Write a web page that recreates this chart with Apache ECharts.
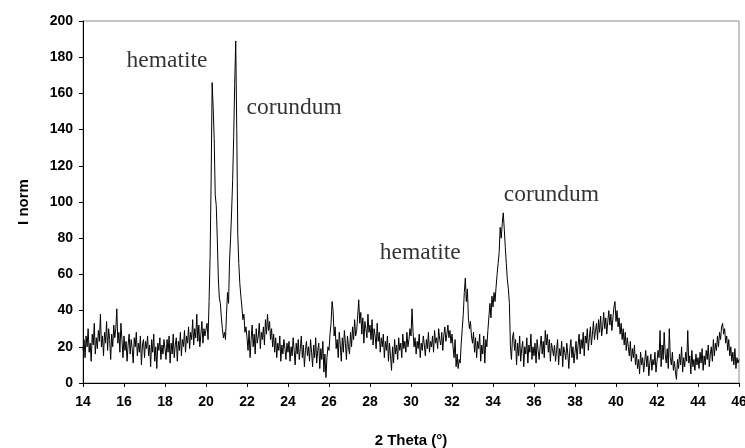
<!DOCTYPE html>
<html>
<head>
<meta charset="utf-8">
<script src="https://cdn.jsdelivr.net/npm/echarts@6/dist/echarts.min.js"></script>
<style>html,body{margin:0;padding:0;background:#fff}#c{width:745px;height:448px}</style>
</head>
<body>
<div id="c"></div>
<script>
// Sampling grid of the scan (2 Theta, degrees)
const startTheta = 14;
const stepTheta = 0.05;

// Normalised intensity, one row per degree (20 samples each)
const intensity = [
  /*14*/ 18,24,14,26,20,30,17,22,12,27,21,33,16,25,19,29,23,38,20,26,
  /*15*/ 15,28,22,34,18,30,24,13,27,20,32,25,30,41,22,28,17,33,24,14,
  /*16*/ 26,18,23,12,21,27,16,24,19,11,25,20,28,15,22,17,26,10,21,24,
  /*17*/ 14,23,19,26,15,21,9,24,17,27,12,20,8,22,18,25,13,21,16,24,
  /*18*/ 19,13,24,17,26,11,22,16,27,14,21,25,12,23,18,28,15,24,20,29,
  /*19*/ 17,26,22,31,19,28,24,35,21,30,25,38,23,32,20,27,34,22,30,26,
  /*20*/ 26,33,24,45,70,112,166,152,135,104,98,80,58,47,44,36,30,25,28,24,
  /*21*/ 38,50,44,68,80,95,112,136,165,189,140,82,66,55,48,42,35,38,28,31,
  /*22*/ 25,18,29,14,24,32,20,27,16,30,22,26,33,19,28,24,31,21,35,27,
  /*23*/ 38,29,34,24,30,20,27,17,25,14,22,18,26,12,21,16,24,19,13,22,
  /*24*/ 17,23,12,20,15,25,18,10,22,16,24,13,19,26,14,21,9,18,23,15,
  /*25*/ 20,12,24,17,9,21,14,25,11,18,22,8,19,13,23,6,16,3,14,20,
  /*26*/ 18,27,33,45,40,26,31,19,24,14,28,21,12,25,17,29,22,13,26,20,
  /*27*/ 16,28,20,31,24,35,26,29,37,46,33,39,27,36,22,34,30,25,38,28,
  /*28*/ 32,24,35,21,30,26,19,33,23,28,17,25,20,27,14,23,18,26,12,22,
  /*29*/ 15,7,20,11,24,16,21,13,25,18,22,14,27,19,23,17,28,20,24,30,
  /*30*/ 26,41,28,20,25,16,23,19,27,14,22,18,26,21,15,24,19,28,17,23,
  /*31*/ 20,26,17,29,22,25,19,30,24,21,28,18,26,31,23,27,32,25,29,22,
  /*32*/ 27,20,14,24,9,16,8,13,11,22,30,38,50,58,45,52,36,30,34,26,
  /*33*/ 22,28,17,25,14,23,19,27,12,21,16,26,11,24,20,29,30,44,36,48,
  /*34*/ 42,50,45,53,60,66,72,86,80,88,94,85,75,66,57,52,44,20,13,25,
  /*35*/ 28,18,24,10,22,15,26,12,19,23,9,20,16,25,11,21,17,27,13,20,
  /*36*/ 15,22,11,24,18,13,20,26,16,23,14,29,21,27,17,24,12,22,19,15,
  /*37*/ 21,12,18,24,10,19,15,23,9,20,17,13,22,16,8,19,24,14,20,11,
  /*38*/ 17,23,13,21,27,16,24,19,28,15,26,22,30,18,25,31,21,27,34,24,
  /*39*/ 29,33,24,35,28,37,26,31,39,30,36,27,34,40,32,38,29,36,42,45,
  /*40*/ 34,40,31,36,27,33,24,30,21,28,18,25,20,15,23,12,19,14,21,10,
  /*41*/ 16,8,13,5,17,10,14,6,12,18,9,15,4,11,16,7,13,10,17,6,
  /*42*/ 12,18,14,29,9,21,13,28,16,11,19,8,30,14,10,17,7,12,6,2,
  /*43*/ 13,8,16,10,20,6,14,9,17,12,29,11,15,5,18,9,13,7,16,10,
  /*44*/ 14,8,17,11,19,7,15,10,18,13,21,9,16,20,12,24,15,22,18,26,
  /*45*/ 20,28,24,31,33,27,30,22,26,18,24,15,20,12,17,10,19,8,14,11,
  /*46*/ 13
];

// Peak annotations (text, position in data coordinates)
const annotationText  = ['hematite', 'corundum', 'hematite', 'corundum'];
const annotationTheta = [18.1, 24.3, 30.45, 36.85];
const annotationI     = [178, 152, 72, 104];

const xTicks = {min: 14, max: 46, interval: 2};
const yTicks = {min: 0, max: 200, interval: 20};

const lineData = intensity.map((v, i) => [+(startTheta + i * stepTheta).toFixed(2), v]);
const annData = annotationText.map((t, i) => ({value: [annotationTheta[i], annotationI[i]], name: t}));

const chart = echarts.init(document.getElementById('c'), null, {renderer: 'canvas'});
const tickFont = {fontFamily: 'Liberation Sans, Arial, sans-serif', fontWeight: 'bold', fontSize: 14, color: '#000'};
const nameFont = {fontFamily: 'Liberation Sans, Arial, sans-serif', fontWeight: 'bold', fontSize: 15, color: '#000'};
chart.setOption({
  animation: false,
  backgroundColor: '#fff',
  grid: {left: 83, right: 6, top: 21, bottom: 65, show: true, borderColor: '#8c8c8c', borderWidth: 1,
         containLabel: false, outerBoundsMode: 'none'},
  xAxis: {
    type: 'value', min: xTicks.min, max: xTicks.max, interval: xTicks.interval,
    name: '2 Theta (°)', nameLocation: 'middle', nameGap: 50,
    nameTextStyle: nameFont,
    axisLine: {show: true, lineStyle: {color: '#000', width: 1}},
    axisTick: {show: true, length: 4, lineStyle: {color: '#000'}},
    axisLabel: Object.assign({margin: 12}, tickFont),
    splitLine: {show: false}
  },
  yAxis: {
    type: 'value', min: yTicks.min, max: yTicks.max, interval: yTicks.interval,
    name: 'I norm', nameLocation: 'middle', nameGap: 52, nameRotate: 90,
    nameTextStyle: nameFont,
    axisLine: {show: true, lineStyle: {color: '#000', width: 1}},
    axisTick: {show: true, length: 4, lineStyle: {color: '#000'}},
    axisLabel: Object.assign({margin: 10}, tickFont),
    splitLine: {show: false}
  },
  series: [
    {
      type: 'line', data: lineData, showSymbol: false, symbol: 'none',
      lineStyle: {color: '#000', width: 1}, silent: true, z: 3
    },
    {
      type: 'scatter', data: annData, symbolSize: 0, silent: true, z: 4,
      label: {
        show: true, position: 'inside', formatter: p => p.name,
        fontFamily: 'Liberation Serif, Times New Roman, serif', fontSize: 23.5, color: '#000'
      }
    }
  ]
});
</script>
</body>
</html>
